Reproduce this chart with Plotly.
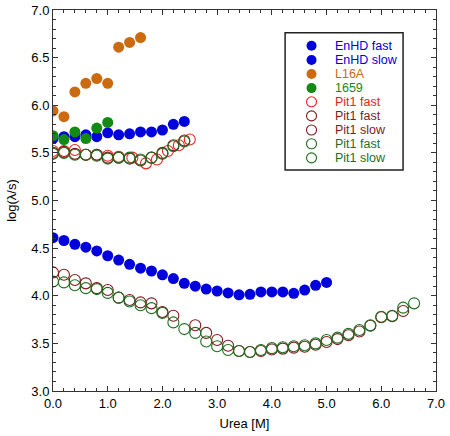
import plotly.graph_objects as go

# ---------------- data ----------------
enhd_fast_x = [0.0, 0.2, 0.4, 0.6, 0.8, 1.0, 1.2, 1.4, 1.6, 1.8, 2.0, 2.2, 2.4]
enhd_fast_y = [5.65, 5.67, 5.67, 5.69, 5.67, 5.71, 5.69, 5.70, 5.72, 5.72, 5.74, 5.80, 5.83]

enhd_slow_x = [0.0, 0.2, 0.4, 0.6, 0.8, 1.0, 1.2, 1.4, 1.6, 1.8, 2.0, 2.2, 2.4, 2.6, 2.8,
               3.0, 3.2, 3.4, 3.6, 3.8, 4.0, 4.2, 4.4, 4.6, 4.8, 5.0]
enhd_slow_y = [4.61, 4.58, 4.54, 4.51, 4.47, 4.42, 4.375, 4.33, 4.29, 4.26, 4.22, 4.18, 4.13,
               4.10, 4.07, 4.05, 4.03, 4.01, 4.015, 4.04, 4.04, 4.04, 4.025, 4.06, 4.11, 4.14]

l16a_x = [0.0, 0.2, 0.4, 0.6, 0.8, 1.0, 1.2, 1.4, 1.6]
l16a_y = [5.94, 5.88, 6.14, 6.23, 6.28, 6.23, 6.61, 6.66, 6.71]

i659_x = [0.0, 0.2, 0.4, 0.6, 0.8, 1.0]
i659_y = [5.68, 5.64, 5.72, 5.65, 5.76, 5.82]

pit1_fast_red_x = [0.0, 0.2, 0.4, 0.6, 0.8, 1.0, 1.2, 1.45, 1.7, 1.9, 2.1, 2.3, 2.5]
pit1_fast_red_y = [5.52, 5.52, 5.53, 5.48, 5.48, 5.47, 5.46, 5.45, 5.39, 5.43, 5.52, 5.58, 5.64]

pit1_fast_dr_x = [0.0, 0.2, 0.4, 0.6, 0.8, 1.0, 1.2, 1.4, 1.6, 1.8, 2.0, 2.2, 2.4]
pit1_fast_dr_y = [5.50, 5.51, 5.49, 5.48, 5.48, 5.45, 5.45, 5.44, 5.42, 5.45, 5.50, 5.58, 5.63]

pit1_slow_dr_x = [0.0, 0.2, 0.4, 0.6, 0.8, 1.0, 1.2, 1.4, 1.6, 1.8, 2.0, 2.2, 2.6, 2.8, 3.0,
                  3.2, 3.4, 3.6, 3.8, 4.0, 4.2, 4.4, 4.6, 4.8, 5.0, 5.2, 5.4, 5.6, 5.8, 6.0,
                  6.2, 6.4]
pit1_slow_dr_y = [4.245, 4.22, 4.165, 4.13, 4.08, 4.06, 3.98, 3.955, 3.93, 3.92, 3.83, 3.79,
                  3.69, 3.61, 3.535, 3.475, 3.42, 3.41, 3.42, 3.435, 3.445, 3.455, 3.465,
                  3.485, 3.515, 3.545, 3.585, 3.625, 3.685, 3.775, 3.785, 3.84]

pit1_fast_gr_x = [0.0, 0.2, 0.4, 0.6, 0.8, 1.0, 1.2, 1.4, 1.6, 1.8, 2.0, 2.2, 2.4]
pit1_fast_gr_y = [5.49, 5.50, 5.48, 5.48, 5.47, 5.44, 5.45, 5.45, 5.43, 5.45, 5.49, 5.57, 5.62]

pit1_slow_gr_x = [0.0, 0.2, 0.4, 0.6, 0.8, 1.0, 1.2, 1.4, 1.6, 1.8, 2.0, 2.2, 2.4, 2.6, 2.8,
                  3.0, 3.2, 3.4, 3.6, 3.8, 4.0, 4.2, 4.4, 4.6, 4.8, 5.0, 5.2, 5.4, 5.6, 5.8,
                  6.0, 6.2, 6.4, 6.6]
pit1_slow_gr_y = [4.15, 4.14, 4.11, 4.08, 4.07, 4.03, 3.98, 3.94, 3.90, 3.87, 3.82, 3.72,
                  3.65, 3.61, 3.52, 3.47, 3.43, 3.42, 3.41, 3.43, 3.45, 3.46, 3.47, 3.48,
                  3.50, 3.535, 3.56, 3.60, 3.64, 3.69, 3.78, 3.79, 3.875, 3.92]

legend_labels = ["EnHD fast", "EnHD slow", "L16A", "1659", "Pit1 fast", "Pit1 fast",
                 "Pit1 slow", "Pit1 fast", "Pit1 slow"]

# ---------------- styles ----------------
BLUE = "#0000DD"
ORANGE = "#CC6A10"
GREEN = "#138A13"
RED = "#E8251E"
DRED = "#7E1C1C"
DGREEN = "#1F6E1F"

series = [
    (enhd_fast_x, enhd_fast_y, BLUE, True),
    (enhd_slow_x, enhd_slow_y, BLUE, True),
    (l16a_x, l16a_y, ORANGE, True),
    (i659_x, i659_y, GREEN, True),
    (pit1_fast_red_x, pit1_fast_red_y, RED, False),
    (pit1_fast_dr_x, pit1_fast_dr_y, DRED, False),
    (pit1_slow_dr_x, pit1_slow_dr_y, DRED, False),
    (pit1_fast_gr_x, pit1_fast_gr_y, DGREEN, False),
    (pit1_slow_gr_x, pit1_slow_gr_y, DGREEN, False),
]

fig = go.Figure()
for (xs, ys, col, filled), name in zip(series, legend_labels):
    if filled:
        marker = dict(symbol="circle", size=11, color=col, line=dict(width=0))
    else:
        marker = dict(symbol="circle-open", size=11, color=col, line=dict(width=1.1, color=col))
    fig.add_trace(go.Scatter(x=xs, y=ys, mode="markers", name=name, marker=marker,
                             showlegend=False))

# ---------------- manual legend ----------------
FONT = "Liberation Sans, Arial, Helvetica, sans-serif"
shapes = [dict(type="rect", xref="paper", yref="paper", x0=0.606, x1=0.914, y0=0.580, y1=0.940,
               line=dict(color="#222", width=1.5), fillcolor="white", layer="above")]
annotations = []
row_y = [0.906, 0.869, 0.832, 0.795, 0.759, 0.722, 0.685, 0.649, 0.612]
for (xs, ys, col, filled), name, ry in zip(series, legend_labels, row_y):
    shapes.append(dict(type="circle", xref="paper", yref="paper",
                       xsizemode="pixel", ysizemode="pixel",
                       xanchor=0.675, yanchor=ry, x0=-5, x1=5, y0=-5, y1=5,
                       fillcolor=col if filled else "rgba(0,0,0,0)",
                       line=dict(color=col, width=0 if filled else 1.1), layer="above"))
    annotations.append(dict(xref="paper", yref="paper", x=0.734, y=ry, xanchor="left",
                            yanchor="middle", text=name, showarrow=False, borderpad=0,
                            font=dict(family=FONT, size=12.5, color=col)))

axis_common = dict(showline=True, linecolor="#333", linewidth=1, mirror="allticks",
                   ticks="inside", ticklen=5, tickwidth=1, tickcolor="#333",
                   showgrid=False, zeroline=False, tickformat=".1f", automargin=False,
                   tickfont=dict(family=FONT, size=13, color="black"))

fig.update_layout(
    width=450, height=436,
    margin=dict(l=53, r=14, t=10, b=45),
    paper_bgcolor="white", plot_bgcolor="white",
    font=dict(family=FONT, size=13, color="black"),
    xaxis=dict(range=[0, 7], dtick=1, title=dict(text="Urea [M]", standoff=9,
               font=dict(family=FONT, size=13)),
               minor=dict(ticks="inside", dtick=0.2, ticklen=3, tickcolor="#333"),
               **axis_common),
    yaxis=dict(range=[3, 7], dtick=0.5, title=dict(text="log(λ/s)", standoff=11,
               font=dict(family=FONT, size=13)),
               minor=dict(ticks="inside", dtick=0.1, ticklen=3, tickcolor="#333"),
               **axis_common),
    shapes=shapes, annotations=annotations, showlegend=False,
)

fig.write_html("out.html", config={"displayModeBar": False},
               post_script="document.body.style.margin='0';document.body.style.overflow='hidden';")
